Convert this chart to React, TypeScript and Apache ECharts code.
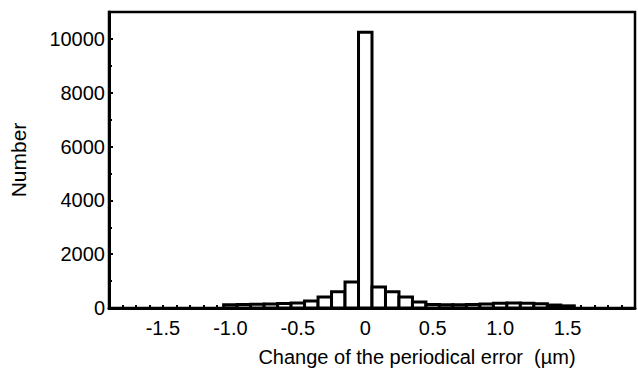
import React, { useEffect, useRef } from "react";
import * as echarts from "echarts";

// Histogram bins: centre of each bin (µm), width 0.1
const binCenters = [
  -1.0, -0.9, -0.8, -0.7, -0.6, -0.5, -0.4, -0.3, -0.2, -0.1, 0.0,
  0.1, 0.2, 0.3, 0.4, 0.5, 0.6, 0.7, 0.8, 0.9, 1.0, 1.1, 1.2, 1.3, 1.4, 1.5,
];
const counts = [
  120, 130, 140, 150, 170, 190, 260, 410, 600, 970, 10250,
  780, 600, 410, 220, 130, 120, 120, 130, 150, 180, 190, 180, 160, 110, 80,
];
const binWidth = 0.1;
const xTickLabels = [-1.5, -1.0, -0.5, 0, 0.5, 1.0, 1.5];
const yTickValues = [0, 2000, 4000, 6000, 8000, 10000];

const FONT = "'Liberation Sans', Arial, Helvetica, sans-serif";

export default function App() {
  const ref = useRef<HTMLDivElement>(null);
  useEffect(() => {
    if (!ref.current) return;
    const chart = echarts.init(ref.current, null, { renderer: "svg" });
    const data = binCenters.map((c, i) => [c, counts[i]]);
    chart.setOption({
      animation: false,
      backgroundColor: "#fff",
      grid: {
        left: 108,
        right: 2,
        top: 12,
        bottom: 69,
        show: true,
        borderColor: "#000",
        borderWidth: 2.5,
        backgroundColor: "transparent",
      },
      xAxis: {
        type: "value",
        min: -1.9,
        max: 2.0,
        interval: 0.1,
        name: "Change of the periodical error  (µm)",
        nameLocation: "middle",
        nameGap: 39,
        nameTextStyle: {
          fontFamily: FONT,
          fontSize: 20,
          color: "#000",
          padding: [0, 0, 0, 90],
        },
        axisLine: { show: true, onZero: false, lineStyle: { color: "#000", width: 3 } },
        axisTick: { show: true, inside: true, length: 3, lineStyle: { color: "#000", width: 2 } },
        axisLabel: {
          fontFamily: FONT,
          fontSize: 20,
          color: "#000",
          margin: 10,
          formatter: (v: number) => {
            const r = Math.round(v * 10);
            const hit = xTickLabels.find((t) => Math.round(t * 10) === r);
            if (hit === undefined) return "";
            return r === 0 ? "0" : hit.toFixed(1);
          },
        },
        splitLine: { show: false },
      },
      yAxis: {
        type: "value",
        min: 0,
        max: 11000,
        interval: 2000,
        name: "Number",
        nameLocation: "middle",
        nameGap: 80,
        nameTextStyle: { fontFamily: FONT, fontSize: 21, color: "#000" },
        axisLine: { show: true, onZero: false, lineStyle: { color: "#000", width: 3 } },
        axisTick: { show: true, inside: true, length: 4, lineStyle: { color: "#000", width: 2 } },
        minorTick: { show: true, splitNumber: 2, length: 3, lineStyle: { color: "#000", width: 2 } },
        axisLabel: {
          fontFamily: FONT,
          fontSize: 20,
          color: "#000",
          margin: 4,
          showMaxLabel: false,
          formatter: (v: number) => (yTickValues.includes(v) ? String(v) : ""),
        },
        splitLine: { show: false },
      },
      series: [
        {
          type: "custom",
          data,
          encode: { x: 0, y: 1 },
          clip: true,
          renderItem: (params: any, api: any) => {
            const c = api.value(0);
            const v = api.value(1);
            if (!v) return null;
            const p0 = api.coord([c - binWidth / 2, v]);
            const p1 = api.coord([c + binWidth / 2, 0]);
            return {
              type: "rect",
              shape: { x: p0[0], y: p0[1], width: p1[0] - p0[0], height: p1[1] - p0[1] },
              style: { fill: "#fff", stroke: "#000", lineWidth: 3 },
            };
          },
        },
      ],
    });
    return () => chart.dispose();
  }, []);
  return (
    <div
      ref={ref}
      style={{ position: "fixed", left: 0, top: 0, width: 638, height: 377, background: "#fff" }}
    />
  );
}
